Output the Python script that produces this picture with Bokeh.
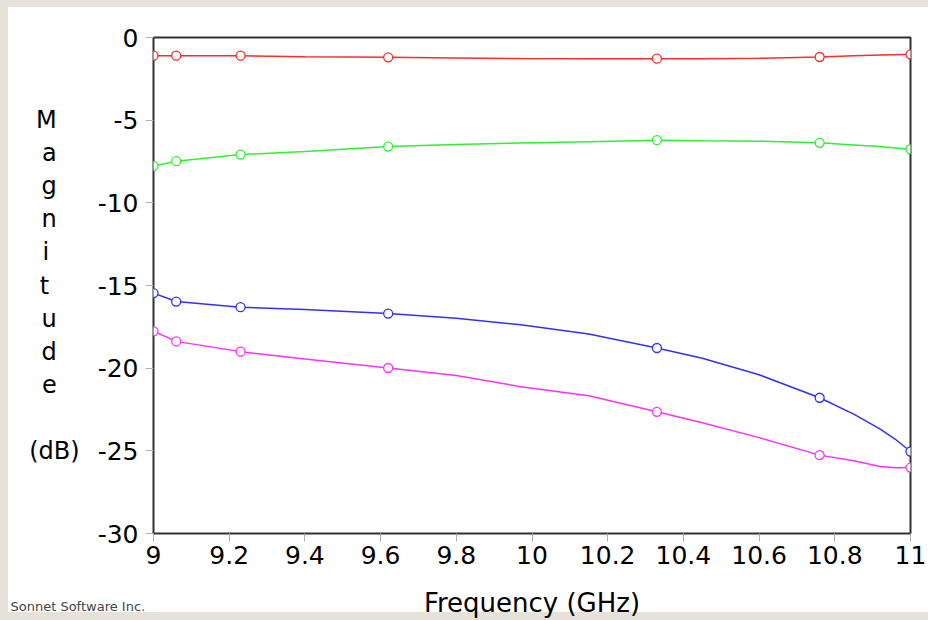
from bokeh.plotting import figure
from bokeh.models import Range1d, FixedTicker, Label
from bokeh.embed import file_html
from bokeh.resources import INLINE

# ---- data ----
LINE_FREQ = [9.0, 9.06, 9.23, 9.4, 9.62, 9.8, 9.97, 10.15, 10.33, 10.45, 10.6, 10.76, 10.85, 10.92, 10.96, 11.0]
RED_LINE = [-1.10, -1.10, -1.10, -1.16, -1.20, -1.24, -1.27, -1.28, -1.28, -1.28, -1.26, -1.18, -1.10, -1.06, -1.04, -1.02]
GREEN_LINE = [-7.77, -7.48, -7.08, -6.90, -6.60, -6.47, -6.38, -6.30, -6.21, -6.24, -6.27, -6.37, -6.50, -6.60, -6.68, -6.76]
BLUE_LINE = [-15.46, -15.97, -16.31, -16.45, -16.70, -16.98, -17.38, -17.93, -18.78, -19.40, -20.40, -21.79, -22.78, -23.69, -24.30, -25.04]
MAGENTA_LINE = [-17.77, -18.38, -19.00, -19.45, -19.99, -20.45, -21.12, -21.67, -22.64, -23.30, -24.20, -25.26, -25.60, -25.95, -26.03, -26.01]

MARK_FREQ = [9.0, 9.06, 9.23, 9.62, 10.33, 10.76, 11.0]
RED_MARK = [-1.10, -1.10, -1.10, -1.20, -1.28, -1.18, -1.02]
GREEN_MARK = [-7.77, -7.48, -7.08, -6.60, -6.21, -6.37, -6.76]
BLUE_MARK = [-15.46, -15.97, -16.31, -16.70, -18.78, -21.79, -25.04]
MAGENTA_MARK = [-17.77, -18.38, -19.00, -19.99, -22.64, -25.26, -26.01]

X_TICKS = [9.0, 9.2, 9.4, 9.6, 9.8, 10.0, 10.2, 10.4, 10.6, 10.8, 11.0]
X_TICK_LABELS = ["9", "9.2", "9.4", "9.6", "9.8", "10", "10.2", "10.4", "10.6", "10.8", "11"]
Y_TICKS = [0, -5, -10, -15, -20, -25, -30]
Y_TICK_LABELS = ["0", "-5", "-10", "-15", "-20", "-25", "-30"]

X_TITLE = "Frequency (GHz)"
Y_TITLE_LETTERS = ["M", "a", "g", "n", "i", "t", "u", "d", "e"]
Y_TITLE_UNIT = "(dB)"
CREDIT = "Sonnet Software Inc."

FONT = "DejaVu Sans"
W, H = 928, 620
FL, FR, FT, FB = 153, 910, 37, 533   # frame edges in canvas pixels
BEIGE = "#e6e2da"

p = figure(width=W, height=H, output_backend="svg", toolbar_location=None,
           x_range=Range1d(9, 11), y_range=Range1d(-30, 0),
           min_border_left=FL, min_border_right=W - FR, min_border_top=FT, min_border_bottom=H - FB)
p.background_fill_color = "white"
p.border_fill_color = None
p.styles = {
    "background": (f"linear-gradient(to right, {BEIGE} 8px, transparent 8px), "
                   f"linear-gradient(to bottom, {BEIGE} 7px, white 7px, white 612px, {BEIGE} 612px)"),
}
p.outline_line_color = "#303030"
p.outline_line_width = 2
p.grid.visible = False

p.xaxis.ticker = FixedTicker(ticks=X_TICKS)
p.xaxis.major_label_overrides = {t: s for t, s in zip(X_TICKS, X_TICK_LABELS)}
p.yaxis.ticker = FixedTicker(ticks=Y_TICKS)
p.yaxis.major_label_overrides = {t: s for t, s in zip(Y_TICKS, Y_TICK_LABELS)}

for ax in (p.xaxis, p.yaxis):
    ax.axis_line_color = None
    ax.major_tick_in = 0
    ax.major_tick_out = 8
    ax.major_tick_line_color = "#b0b0b0"
    ax.minor_tick_line_color = None
    ax.major_label_text_font = FONT
    ax.major_label_text_font_size = "25px"
    ax.major_label_text_color = "black"
    ax.axis_label_text_font = FONT
    ax.axis_label_text_font_style = "normal"
    ax.axis_label_text_color = "black"
p.yaxis.major_label_standoff = 7
p.xaxis.major_label_standoff = 4

p.xaxis.axis_label = X_TITLE
p.xaxis.axis_label_text_font_size = "26px"
p.xaxis.axis_label_standoff = 21

# stacked vertical title; lines are right-aligned by the axis, so the single
# letters get trailing no-break spaces to sit centred over "(dB)"
pad = {"i": 4, "t": 4}
stacked = [ch + "\u00a0" * pad.get(ch, 3) for ch in Y_TITLE_LETTERS] + ["", Y_TITLE_UNIT]
p.yaxis.axis_label = "\n".join(stacked)
p.yaxis.axis_label_orientation = "horizontal"
p.yaxis.axis_label_text_font_size = "24px"
p.yaxis.axis_label_text_line_height = 1.18
p.yaxis.axis_label_standoff = 15

series = [
    (RED_LINE, RED_MARK, "#ff2a2a"),
    (GREEN_LINE, GREEN_MARK, "#30f030"),
    (BLUE_LINE, BLUE_MARK, "#3030ff"),
    (MAGENTA_LINE, MAGENTA_MARK, "#ff30ff"),
]
for line_vals, mark_vals, col in series:
    p.line(LINE_FREQ, line_vals, line_color=col, line_width=1.5)
    p.scatter(MARK_FREQ, mark_vals, marker="circle", size=9, line_color=col,
              line_width=1.3, fill_color="white")

# credit text lives in the (otherwise empty) top side panel, positioned in
# screen pixels relative to that panel (left = frame left, bottom = frame top)
p.add_layout(Label(x=10 - FL, y=FT - 613, x_units="screen", y_units="screen", text=CREDIT,
                   text_font=FONT, text_font_size="13px", text_color="#444444",
                   text_align="left", text_baseline="bottom"), "above")

open("out.html", "w").write(file_html(p, INLINE))
